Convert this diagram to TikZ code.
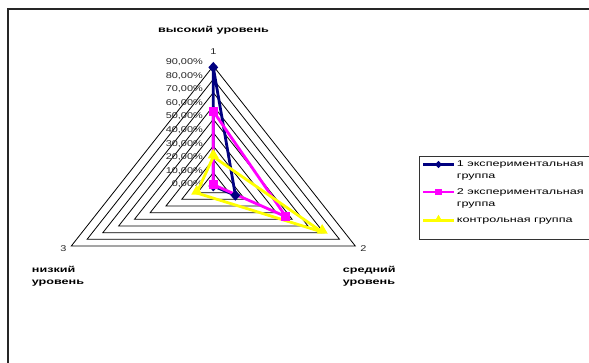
\documentclass[tikz,border=0pt]{standalone}
\usepackage{fontspec}
\setmainfont{Liberation Sans}
\newfontfamily\numf[FakeStretch=1.3]{Liberation Sans}
\newfontfamily\txtf[FakeStretch=1.5]{Liberation Sans}
\usetikzlibrary{shapes.geometric,calc}
\definecolor{navyb}{RGB}{0,0,128}
\definecolor{magb}{RGB}{255,0,255}
\definecolor{yelb}{RGB}{255,255,0}
\tikzset{
  grid/.style={draw=black, line width=0.8pt},
  ser/.style={line width=2.8pt, line join=round},
  mkdiam/.style={diamond, fill=navyb, inner sep=0pt, minimum width=10pt, minimum height=11pt},
  mksq/.style={rectangle, fill=magb, inner sep=0pt, minimum size=9pt},
  mktri/.style={regular polygon, regular polygon sides=3, fill=yelb, inner sep=0pt, minimum size=13pt},
  lgdiam/.style={diamond, fill=navyb, inner sep=0pt, minimum size=7.5pt},
  lgsq/.style={rectangle, fill=magb, inner sep=0pt, minimum size=6.5pt},
  lgtri/.style={regular polygon, regular polygon sides=3, fill=yelb, inner sep=0pt, minimum size=9.5pt},
  tick/.style={anchor=east, inner sep=0pt, font=\numf\fontsize{8.4}{10}\selectfont, text=black!85},
  cat/.style={inner sep=0pt, font=\numf\fontsize{8.4}{10}\selectfont, text=black!85},
  lvl/.style={inner sep=0pt, align=left, font=\txtf\bfseries\fontsize{8.4}{12.3}\selectfont},
  lgtxt/.style={inner sep=0pt, anchor=west, align=left, font=\txtf\fontsize{8.4}{11.6}\selectfont}
}
\begin{document}
\begin{tikzpicture}[x=1pt,y=-1pt]
\useasboundingbox (0,0) rectangle (589,363);
\clip (0,0) rectangle (589,363);
% outer frame
\draw[line width=1.1pt, draw=black!85] (8,9) rectangle (620,400);
% radar geometry
\coordinate (C) at (213.3,186);
\coordinate (V1) at (213.3,66);
\coordinate (V2) at (355.3,246);
\coordinate (V3) at (71.3,246);
\foreach \k in {1,...,9}{
  \draw[grid] ($(C)!\k/9!(V1)$) -- ($(C)!\k/9!(V2)$) -- ($(C)!\k/9!(V3)$) -- cycle;
}
\draw[grid] (C) -- (V1);
% tick labels
\foreach \k in {0,...,9}{
  \node[tick] (t\k) at (203,184.3-13.55*\k) {\ifnum\k=0 0\else\k0\fi,00\%};
}
% category labels
\node[cat] (c1) at (213.3,51.7) {1};
\node[cat] (c2) at (363.3,249) {2};
\node[cat] (c3) at (63.3,249) {3};
\node[lvl] (l1) at (213.5,30) {высокий уровень};
\node[lvl, anchor=west] (l3) at (31.7,276.4) {низкий\\уровень};
\node[lvl, anchor=west] (l2) at (342.7,276.4) {средний\\уровень};
% data points
\coordinate (b1) at ($(C)!89/90!(V1)$);
\coordinate (b2) at ($(C)!14/90!(V2)$);
\coordinate (b3) at (C);
\coordinate (m1) at ($(C)!56/90!(V1)$);
\coordinate (m2) at ($(C)!46/90!(V2)$);
\coordinate (m3) at ($(C)!1/90!(V1)$);
\coordinate (y1) at ($(C)!22/90!(V1)$);
\coordinate (y2) at ($(C)!69/90!(V2)$);
\coordinate (y3) at ($(C)!10.5/90!(V3)$);
\draw[ser, navyb] (b1) -- (b2) -- (b3) -- cycle;
\draw[ser, magb] (m1) -- (m2) -- (m3) -- cycle;
\draw[ser, yelb] (y1) -- (y2) -- (y3) -- cycle;
\foreach \p in {b1,b2,b3}{ \node[mkdiam] (n\p) at (\p) {}; }
\foreach \p in {m1,m2,m3}{ \node[mksq] (n\p) at (\p) {}; }
\foreach \p in {y1,y2,y3}{ \node[mktri, yshift=1.5pt] (n\p) at (\p) {}; }
% legend
\draw[line width=0.9pt, draw=black!80] (419,156.5) rectangle (620,239.5);
\coordinate (la1) at (423,164.5); \coordinate (lb1) at (454,164.5);
\coordinate (la2) at (423,192); \coordinate (lb2) at (454,192);
\coordinate (la3) at (423,220.5); \coordinate (lb3) at (454,220.5);
\draw[ser, navyb] (la1) -- (lb1);
\draw[ser, magb] (la2) -- (lb2);
\draw[ser, yelb] (la3) -- (lb3);
\node[lgdiam] (lm1) at ($(la1)!0.5!(lb1)$) {};
\node[lgsq] (lm2) at ($(la2)!0.5!(lb2)$) {};
\node[lgtri, yshift=1pt] (lm3) at ($(la3)!0.5!(lb3)$) {};
\node[lgtxt] (lt1) at (456.7,170.5) {1 экспериментальная\\группа};
\node[lgtxt] (lt2) at (456.7,198.5) {2 экспериментальная\\группа};
\node[lgtxt] (lt3) at (456.7,221) {контрольная группа};
\end{tikzpicture}
\end{document}
